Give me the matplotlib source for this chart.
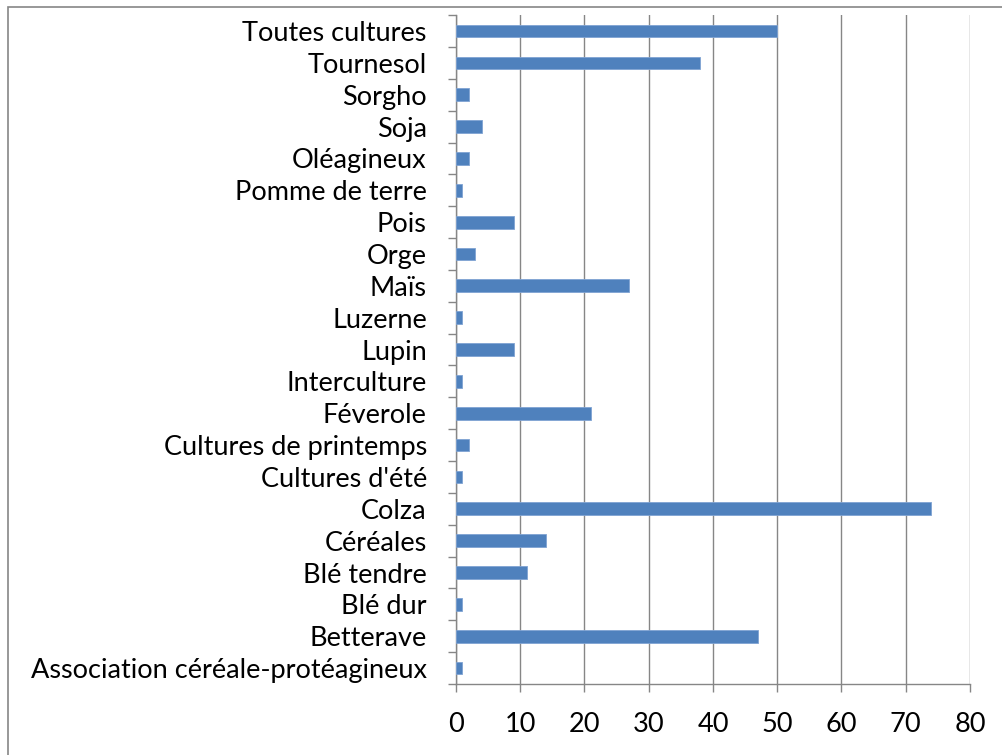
import numpy as np
import matplotlib
matplotlib.use('Agg')
import matplotlib.pyplot as plt
from matplotlib.patches import Rectangle

# categories listed bottom to top, as drawn on the y axis
categories = ["Association céréale-protéagineux", "Betterave", "Blé dur", "Blé tendre",
              "Céréales", "Colza", "Cultures d'été", "Cultures de printemps", "Féverole",
              "Interculture", "Lupin", "Luzerne", "Maïs", "Orge", "Pois", "Pomme de terre",
              "Oléagineux", "Soja", "Sorgho", "Tournesol", "Toutes cultures"]
values = [1, 47, 1, 11, 14, 74, 1, 2, 21, 1, 9, 1, 27, 3, 9, 1, 2, 4, 2, 38, 50]
x_ticks = [0, 10, 20, 30, 40, 50, 60, 70, 80]

plt.rcParams['font.family'] = ['Lato', 'DejaVu Sans']

fig = plt.figure(figsize=(10.03, 7.55), dpi=100)
ax = fig.add_axes([0.4546, 0.094, 0.9671 - 0.4546, 0.980 - 0.094])

# outer chart frame
fig.patches.append(Rectangle((8 / 1003, -0.1), 1.2, 1 - 7 / 755 + 0.1,
                             transform=fig.transFigure, fill=False,
                             edgecolor='#868686', linewidth=1.2))

y = np.arange(len(categories))
ax.barh(y, values, height=0.4, color='#4F81BD', edgecolor='#7FA3D3', linewidth=0.6, zorder=3)

ax.set_xlim(0, 80)
ax.set_ylim(-0.5, len(categories) - 0.5)
ax.set_xticks(x_ticks)
ax.set_xticklabels([str(v) for v in x_ticks], fontsize=19.5)
ax.set_yticks(y)
ax.set_yticklabels(categories, fontsize=19.5)
ax.set_yticks(np.arange(-0.5, len(categories), 1), minor=True)

ax.tick_params(axis='y', which='major', length=0, pad=21)
ax.tick_params(axis='y', which='minor', length=6, color='#868686', width=1)
ax.tick_params(axis='x', length=6, color='#868686', width=1, pad=14)

ax.grid(axis='x', color='#868686', linewidth=1, zorder=0)
for side in ['top', 'right']:
    ax.spines[side].set_visible(False)
for side in ['left', 'bottom']:
    ax.spines[side].set_color('#868686')
    ax.spines[side].set_linewidth(1)

fig.savefig('out.png', dpi=100)
